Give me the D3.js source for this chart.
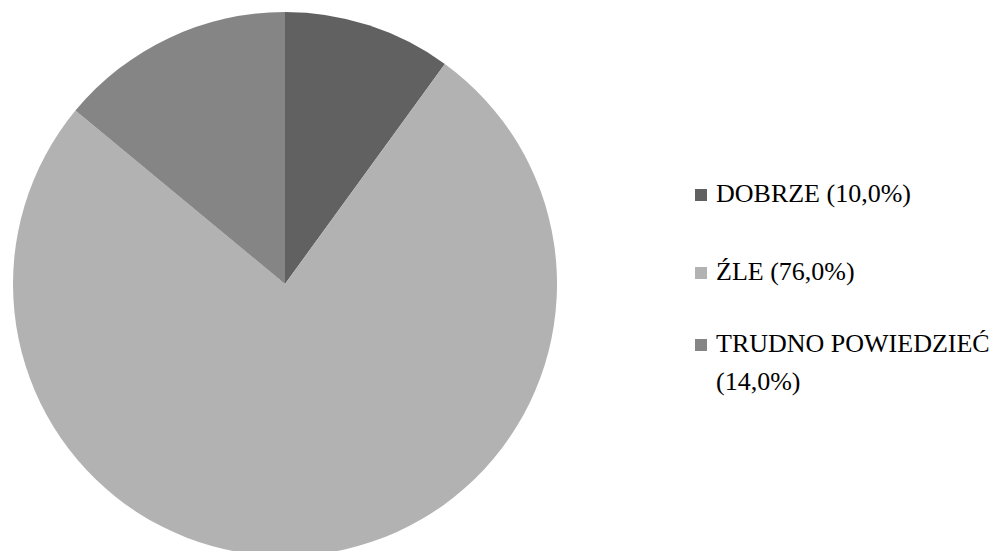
<!DOCTYPE html>
<html>
<head>
<meta charset="utf-8">
<script src="https://cdn.jsdelivr.net/npm/d3@7"></script>
<style>
  html, body { margin: 0; padding: 0; background: #fff; }
  svg { display: block; }
</style>
</head>
<body>
<svg id="chart" width="997" height="551"></svg>
<script>
// Survey answers and their shares (%)
const categories = ["DOBRZE", "ŹLE", "TRUDNO POWIEDZIEĆ"];
const values = [10.0, 76.0, 14.0];
const colors = ["#616161", "#b2b2b2", "#858585"];

const svg = d3.select("#chart");
const cx = 285, cy = 284, radius = 272;

const pie = d3.pie().sort(null).value(d => d.value);
const arc = d3.arc().innerRadius(0).outerRadius(radius);
const color = d3.scaleOrdinal().domain(categories).range(colors);

const data = categories.map((c, i) => ({ name: c, value: values[i] }));

svg.append("g")
  .attr("transform", `translate(${cx},${cy})`)
  .selectAll("path")
  .data(pie(data))
  .join("path")
  .attr("d", arc)
  .attr("fill", d => color(d.data.name));

// Legend: swatch + label, long labels wrap onto a second line
const fmt = v => v.toFixed(1).replace(".", ",") + "%";
const legendLines = [
  [`${categories[0]} (${fmt(values[0])})`],
  [`${categories[1]} (${fmt(values[1])})`],
  [categories[2], `(${fmt(values[2])})`]
];
const baselines = [202, 280, 352];

const legend = svg.append("g")
  .attr("font-family", "'Liberation Serif', 'Times New Roman', serif")
  .attr("font-size", 26)
  .attr("fill", "#000");

legendLines.forEach((lines, i) => {
  legend.append("rect")
    .attr("x", 695)
    .attr("y", baselines[i] - 13)
    .attr("width", 12)
    .attr("height", 12)
    .attr("fill", color(categories[i]));
  const t = legend.append("text")
    .attr("x", 716)
    .attr("y", baselines[i]);
  lines.forEach((ln, j) => {
    t.append("tspan")
      .attr("x", 716)
      .attr("dy", j === 0 ? 0 : 38)
      .text(ln);
  });
});
</script>
</body>
</html>
